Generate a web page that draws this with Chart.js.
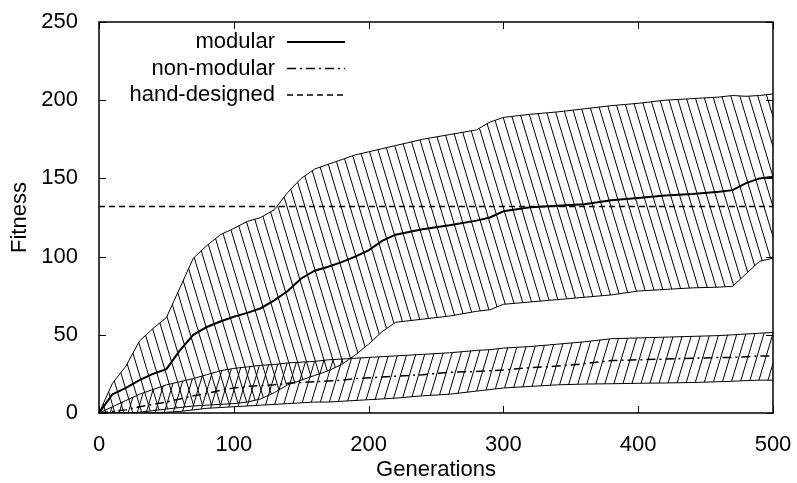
<!DOCTYPE html>
<html>
<head>
<meta charset="utf-8">
<script src="https://cdn.jsdelivr.net/npm/chart.js@4"></script>
<style>
body{margin:0;background:#fff;}
#wrap{width:797px;height:483px;}
</style>
</head>
<body>
<div id="wrap"><canvas id="chart" width="797" height="483"></canvas></div>
<script>
// generations sampled from the plot
let gens = [0,10,20,30,40,50,60,70,80,90,100,110,120,130,140,150,160,170,180,190,200,210,220,240,260,280,290,300,320,340,360,380,400,420,440,460,470,480,490,500];

// modular: upper / mean / lower
let modUpper = [0,19,30,46,54,61,80,99,107,114,118,122.5,125,130,141,150,156,159,162,165,167,169,171,175,178,181,186,189,191,192.5,194.5,196.5,198,200,201,202,203,202.5,203,204];
let modMean = [0,12,16,21,25,28,40,50,55,58.5,61.5,64,67,72,78,86,91,93.5,96.5,100,104,110,114,117.5,120,123,125,129,131.5,132.5,133.5,136,137.5,139,140,141.5,142.5,147,150,151];
let modLower = [0,0,0,0.5,1.5,2.5,3.5,4.5,5,5.5,6,7,9,13,18,21,24,27,31,37,44,52,58,60,62,65,66,69.5,71,72.5,74,75.5,78,79,80,80.5,81,89,97,99];

// non-modular: upper / mean / lower
let nonUpper = [0,4,8,12,15,18,20,22,24.5,27,28.5,29.5,30.5,31,32,32.5,33,34,34.5,35,35.5,36,36.5,37.5,38.5,40,40.5,41.5,42.5,44,45.5,47.5,48,48.5,49,49.5,50,50.5,51,51.5];
let nonMean = [0,1,2,4,5.5,7,9,11,12.5,14.5,16,17,17.5,18,19,19.5,20,20.5,21,22,22.5,23,23.5,24.5,26,26.5,27,27.5,29,30,31.5,33.5,34,34.5,35,35.5,35.5,36,36.5,36.5];
let nonLower = [0,0,0,0,0,0.5,1,2,3,3.5,4,4.5,5,5.5,6,6.5,7,7,7.5,8,8.5,9,9.5,11,12,14,15,16,17,18,18.5,18.7,19,19.2,19.5,20,20.3,20.7,21,21];

let handDesigned = 132;
let handGens = [0,500];

function pts(ys){
  return gens.map((g,i) => ({x:g, y:ys[i]}));
}

function hatch(dir){
  let c = document.createElement("canvas");
  c.width = 9; c.height = 30;
  let g = c.getContext("2d");
  g.strokeStyle = "#000";
  g.lineWidth = 1;
  for(let k=-1;k<=1;k++){
    g.beginPath();
    if(dir > 0){ g.moveTo(k*9,30); g.lineTo(k*9+9,0); }
    else { g.moveTo(k*9,0); g.lineTo(k*9+9,30); }
    g.stroke();
  }
  return g.createPattern(c,"repeat");
}

const FONT = {family:"'Liberation Sans', Arial, sans-serif", size:22};

// box + inward ticks on all four sides, gnuplot style
const frame = {
  id:"frame",
  afterDatasetsDraw(chart){
    let ctx = chart.ctx, a = chart.chartArea;
    let xs = chart.scales.x, ys = chart.scales.y;
    ctx.save();
    ctx.strokeStyle = "#000";
    ctx.lineWidth = 1;
    ctx.beginPath();
    xs.ticks.forEach(t => {
      let px = Math.round(xs.getPixelForValue(t.value)) + 0.5;
      ctx.moveTo(px,a.bottom); ctx.lineTo(px,a.bottom-7);
      ctx.moveTo(px,a.top); ctx.lineTo(px,a.top+7);
    });
    ys.ticks.forEach(t => {
      let py = Math.round(ys.getPixelForValue(t.value)) + 0.5;
      ctx.moveTo(a.left,py); ctx.lineTo(a.left+7,py);
      ctx.moveTo(a.right,py); ctx.lineTo(a.right-7,py);
    });
    ctx.stroke();
    ctx.lineWidth = 1.5;
    ctx.strokeRect(a.left,a.top,a.right-a.left,a.bottom-a.top);
    ctx.restore();
  }
};

// key in the upper left, text right aligned, sample to the right
const key = {
  id:"key",
  afterDraw(chart){
    let ctx = chart.ctx;
    ctx.save();
    ctx.font = FONT.size + "px " + FONT.family;
    ctx.fillStyle = "#000";
    ctx.textAlign = "right";
    ctx.textBaseline = "middle";
    let row = 0;
    chart.data.datasets.forEach(ds => {
      if(!ds.inKey) return;
      let y = 42 + row*26.5;
      ctx.fillText(ds.label, 275, y);
      ctx.strokeStyle = ds.borderColor;
      ctx.lineWidth = ds.borderWidth;
      ctx.setLineDash(ds.borderDash || []);
      ctx.beginPath();
      ctx.moveTo(287,y); ctx.lineTo(345,y);
      ctx.stroke();
      row++;
    });
    ctx.restore();
  }
};

let band = {pointRadius:0, borderColor:"#000", borderWidth:1, tension:0};

new Chart(document.getElementById("chart"),{
  type:"line",
  data:{
    datasets:[
      Object.assign({label:"modular max", data:pts(modUpper), fill:"+1", backgroundColor:hatch(-1)}, band),
      Object.assign({label:"modular min", data:pts(modLower), fill:false}, band),
      Object.assign({label:"non-modular max", data:pts(nonUpper), fill:"+1", backgroundColor:hatch(1)}, band),
      Object.assign({label:"non-modular min", data:pts(nonLower), fill:false}, band),
      {label:"modular", inKey:true, data:pts(modMean), borderColor:"#000", borderWidth:2, pointRadius:0, fill:false},
      {label:"non-modular", inKey:true, data:pts(nonMean), borderColor:"#000", borderWidth:1.5, borderDash:[9,4,2,4], pointRadius:0, fill:false},
      {label:"hand-designed", inKey:true, data:handGens.map(g => ({x:g, y:handDesigned})), borderColor:"#000", borderWidth:1.5, borderDash:[6,4], pointRadius:0, fill:false}
    ]
  },
  options:{
    responsive:false,
    animation:false,
    layout:{padding:{top:22,right:24,left:0,bottom:0}},
    plugins:{legend:{display:false}, tooltip:{enabled:false}},
    scales:{
      x:{
        type:"linear", min:0, max:500,
        ticks:{stepSize:100, color:"#000", font:FONT, padding:11, maxRotation:0},
        grid:{display:false},
        border:{display:false},
        title:{display:true, text:"Generations", color:"#000", font:FONT, padding:{top:0,bottom:0}},
        afterFit(s){ s.height = 70; s.paddingLeft = 0; s.paddingRight = 0; }
      },
      y:{
        min:0, max:250,
        ticks:{stepSize:50, color:"#000", font:FONT, padding:13},
        grid:{display:false},
        border:{display:false},
        title:{display:true, text:"Fitness", color:"#000", font:FONT, padding:{top:7,bottom:0}},
        afterFit(s){ s.width = 99; s.paddingTop = 0; s.paddingBottom = 0; }
      }
    }
  },
  plugins:[frame,key]
});
</script>
</body>
</html>
